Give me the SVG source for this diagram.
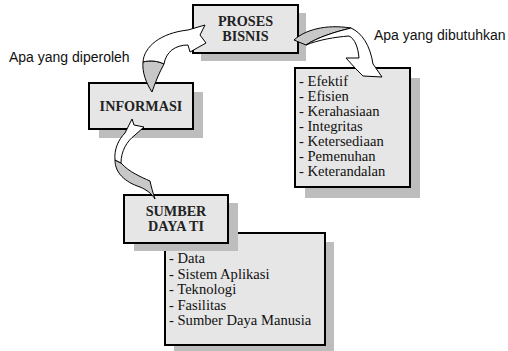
<svg xmlns="http://www.w3.org/2000/svg" width="508" height="351" viewBox="0 0 508 351">
<style>
.shadow{fill:#bdbdbd;stroke:none}
.box{fill:#e6e6e6;stroke:#000;stroke-width:2}
.title{font-family:"Liberation Serif","Times New Roman",serif;font-weight:bold;font-size:14.2px;fill:#222;text-anchor:middle}
.item{font-family:"Liberation Serif","Times New Roman",serif;font-size:14.6px;fill:#111}
.lbl{font-family:"Liberation Sans",Arial,sans-serif;font-size:14px;fill:#111}
.front{fill:#ffffff;stroke:#000;stroke-width:1;stroke-linejoin:round}
.back{fill:#c8c8c8;stroke:#000;stroke-width:1;stroke-linejoin:round}
</style>
<rect width="508" height="351" fill="#fff"/>
<g id="proses-bisnis">
<rect class="shadow" x="201" y="13" width="105" height="48"/>
<rect class="box" x="193" y="5" width="105" height="48"/>
<text class="title" x="245.5" y="26">PROSES</text>
<text class="title" x="245.5" y="41">BISNIS</text>
</g>
<g id="kriteria">
<rect class="shadow" x="305" y="78" width="115" height="120"/>
<rect class="box" x="295" y="68" width="115" height="119"/>
<text class="item" x="299" y="86">- Efektif</text>
<text class="item" x="299" y="101">- Efisien</text>
<text class="item" x="299" y="116">- Kerahasiaan</text>
<text class="item" x="299" y="131">- Integritas</text>
<text class="item" x="299" y="146">- Ketersediaan</text>
<text class="item" x="299" y="161">- Pemenuhan</text>
<text class="item" x="299" y="176">- Keterandalan</text>
</g>
<g id="informasi">
<rect class="shadow" x="99" y="92" width="104" height="46"/>
<rect class="box" x="89" y="83" width="104" height="46"/>
<text class="title" x="141" y="111">INFORMASI</text>
</g>
<g id="sumber-list">
<rect class="shadow" x="174" y="242" width="160" height="112"/>
<rect class="box" x="165" y="233" width="160" height="112"/>
<text class="item" x="169" y="263">- Data</text>
<text class="item" x="169" y="278.5">- Sistem Aplikasi</text>
<text class="item" x="169" y="294">- Teknologi</text>
<text class="item" x="169" y="309.5">- Fasilitas</text>
<text class="item" x="169" y="325">- Sumber Daya Manusia</text>
</g>
<g id="sumber-daya-ti">
<rect class="shadow" x="134" y="203" width="104" height="48"/>
<rect class="box" x="124" y="195" width="104" height="48"/>
<text class="title" x="176" y="216">SUMBER</text>
<text class="title" x="176" y="231">DAYA TI</text>
</g>
<g id="labels">
<text class="lbl" x="374" y="40">Apa yang dibutuhkan</text>
<text class="lbl" x="9" y="62">Apa yang diperoleh</text>
</g>
<g id="connectors">
<g id="arrow-info-proses">
<path class="back" d="M152,92 C146,83 142,72 143,62 C150,60 158,61 164,64 C159,73 155,83 152,92 Z"/>
<path class="front" d="M143,62 C144,47 160,33 188,30 L205,25 L200,35 L206,43 L190,52 L188,45 C175,45 166,52 164,64 C158,61 150,60 143,62 Z"/>
</g>
<g id="arrow-proses-kriteria">
<path class="back" d="M294,40 C305,30 325,24 351,28 C335,32 318,37 306,45 Z"/>
<path class="front" d="M306,45 C318,37 335,32 351,28 C362,33 370,45 373,64 L382,77 L363,76 L356,69 L346,58 L359,58 C358,47 355,39 349,36 C335,37 318,40 306,45 Z"/>
</g>
<g id="arrow-sumber-info">
<path class="back" d="M115,160 C115,173 125,182 140,187 C147,190 152,194 155,199 C153,193 151,186 150,181 C141,177 129,172 121,163 Z"/>
<path class="front" d="M132,119 L134,125 L144,127 L135,135 C127,141 121,151 121,163 L115,160 C114,150 118,140 125,133 Z"/>
</g>
</g>
</svg>
